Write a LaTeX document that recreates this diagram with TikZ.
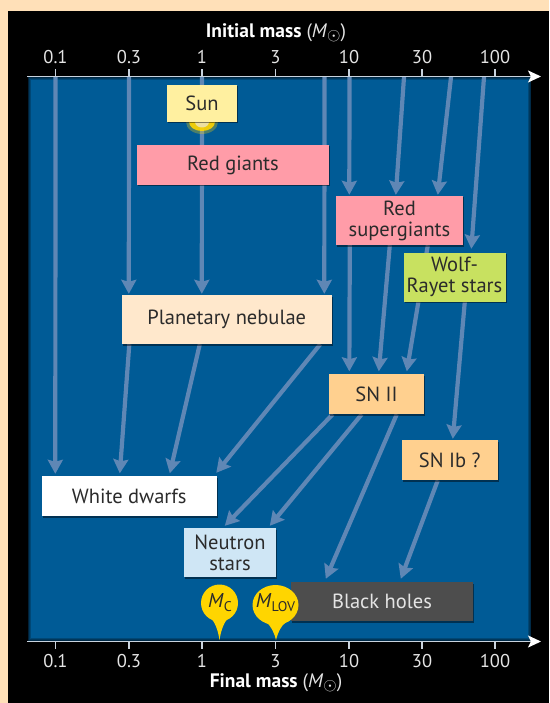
\documentclass[tikz,border=0pt]{standalone}
\usepackage{fontspec}
\setmainfont{PT Sans}
\usetikzlibrary{arrows.meta,shadows}
\definecolor{creambg}{HTML}{FFE0B8}
\definecolor{deepblue}{HTML}{005B96}
\definecolor{connblue}{HTML}{5F87B5}
\definecolor{axisgrey}{HTML}{C9D3DE}
\definecolor{labelgrey}{HTML}{E4E4E4}
\definecolor{inkdark}{HTML}{2B2B2B}
\definecolor{sunyellow}{HTML}{FFF0A0}
\definecolor{redbox}{HTML}{FF9CA8}
\definecolor{greenbox}{HTML}{C8E160}
\definecolor{pnbox}{HTML}{FFE8CC}
\definecolor{snbox}{HTML}{FFD08F}
\definecolor{nsbox}{HTML}{CFE6F5}
\definecolor{bhbox}{HTML}{4D4D4D}
\definecolor{balloon}{HTML}{FFD500}
\pgfdeclarelayer{back}
\pgfdeclarelayer{conn}
\pgfsetlayers{back,conn,main}
\newcommand{\massunit}{\textcolor{labelgrey}{\fontseries{m}\selectfont(\textit{M}\raisebox{-3.5pt}{\fontsize{17}{17}\selectfont$\odot$})}}
\tikzset{
  stbox/.style={rectangle,inner sep=0pt,align=center,text=inkdark,
    font=\fontsize{20.5}{21}\selectfont,
    drop shadow={shadow xshift=1pt,shadow yshift=-1.5pt,opacity=.45,fill=black}},
  connector/.style={draw=connblue,line width=4.2pt,
    -{Stealth[length=14pt,width=15pt,inset=2pt]}},
  axisline/.style={draw=axisgrey,line width=1.8pt,
    -{Stealth[length=13pt,width=12pt,inset=3pt,fill=white,color=white]}},
  ticklabel/.style={text=labelgrey,inner sep=0pt,font=\fontsize{18.5}{20}\selectfont},
  axistitle/.style={text=white,inner sep=0pt,font=\fontsize{19.5}{20}\bfseries},
  balloontext/.style={text=inkdark,inner sep=0pt,font=\fontsize{20}{20}\selectfont},
}
\begin{document}
\begin{tikzpicture}[x=1pt,y=-1pt]
\useasboundingbox (0,0) rectangle (549,703);
\begin{pgfonlayer}{back}
  \fill[creambg] (0,0) rectangle (549,703);
  \fill[black] (8,11) rectangle (549,703);
  \fill[deepblue] (28,77) rectangle (531,641);
  \foreach \w in {1,2.5,4,5.5} \draw[black,opacity=.22,line width=\w pt] (28,77) rectangle (531,641);
\end{pgfonlayer}

% free ends on the top axis
\coordinate (i1) at (55.5,77);
\coordinate (i2) at (129,77);
\coordinate (i3) at (202,77);
\coordinate (i4) at (324.5,77);
\coordinate (i5) at (349.5,77);
\coordinate (i6) at (404,77);
\coordinate (i7) at (451,77);
\coordinate (i8) at (484,77);

% boxes
\node[stbox,fill=sunyellow,minimum width=70pt,minimum height=37pt] (sun) at (202,103.5) {Sun};
\node[stbox,fill=redbox,minimum width=192pt,minimum height=40pt] (rg) at (233,165) {Red giants};
\node[stbox,fill=redbox,minimum width=127pt,minimum height=49pt] (sg) at (399.5,220.5) {Red\\supergiants};
\node[stbox,fill=greenbox,minimum width=102pt,minimum height=49pt] (wr) at (454.5,277) {Wolf-\\Rayet stars};
\node[stbox,fill=pnbox,minimum width=209.5pt,minimum height=49pt] (pn) at (226.75,319.5) {Planetary nebulae};
\node[stbox,fill=snbox,minimum width=95pt,minimum height=40pt] (sn) at (376.5,394) {SN II};
\node[stbox,fill=snbox,minimum width=95.5pt,minimum height=40pt] (ib) at (449.75,460) {SN Ib ?};
\node[stbox,fill=white,minimum width=175.5pt,minimum height=40pt] (wd) at (129.25,496) {White dwarfs};
\node[stbox,fill=nsbox,minimum width=92pt,minimum height=49pt] (ns) at (230,552.5) {Neutron\\stars};
\node[stbox,fill=bhbox,text=labelgrey,minimum width=182pt,minimum height=39pt] (bh) at (382,601.5) {Black holes};

% connectors
\begin{pgfonlayer}{conn}
  \draw[connector] (i1) -- ([xshift=14pt,yshift=2pt]wd.north west);
  \draw[connector] (i2) -- ([xshift=7pt,yshift=1pt]pn.north west);
  \draw[connector] (i3) -- ([xshift=80pt,yshift=1pt]pn.north west);
  \draw[connector] (i4) -- ([xshift=202.5pt,yshift=1pt]pn.north west);
  \draw[connector] (i5) -- ([xshift=13.5pt,yshift=1pt]sg.north west);
  \draw[connector] (i6) -- ([xshift=60pt,yshift=1pt]sg.north west);
  \draw[connector] (i7) -- ([xshift=102pt,yshift=1pt]sg.north west);
  \draw[connector] (i8) -- ([xshift=68pt,yshift=3.5pt]wr.north west);
  \draw[connector] ([xshift=14pt]sg.south west) -- ([xshift=20.5pt,yshift=2.5pt]sn.north west);
  \draw[connector] ([xshift=54pt]sg.south west) -- ([xshift=50pt,yshift=2.5pt]sn.north west);
  \draw[connector] ([xshift=92pt]sg.south west) -- ([xshift=78pt,yshift=2.5pt]sn.north west);
  \draw[connector] ([xshift=61.5pt]wr.south west) -- ([xshift=51pt,yshift=1pt]ib.north west);
  \draw[connector] ([xshift=7.5pt]pn.south west) -- ([xshift=78.5pt,yshift=2.5pt]wd.north west);
  \draw[connector] ([xshift=78pt]pn.south west) -- ([xshift=128.5pt,yshift=2.5pt]wd.north west);
  \draw[connector] ([xshift=198.5pt]pn.south west) -- ([xshift=175pt,yshift=3pt]wd.north west);
  \draw[connector] ([xshift=4pt]sn.south west) -- ([xshift=41pt,yshift=2pt]ns.north west);
  \draw[connector] ([xshift=33pt]sn.south west) -- ([xshift=86pt,yshift=2pt]ns.north west);
  \draw[connector] ([xshift=68pt]sn.south west) -- ([xshift=35pt,yshift=3pt]bh.north west);
  \draw[connector] ([xshift=36pt]ib.south west) -- ([xshift=110pt,yshift=3pt]bh.north west);
  % Sun's glow, under the box
  \fill[balloon,opacity=.3] (202,122) ellipse [x radius=16pt,y radius=12pt];
  \fill[balloon,opacity=.9] (202,122) ellipse [x radius=13pt,y radius=9pt];
  \fill[labelgrey!70!balloon] (202,122) ellipse [x radius=7pt,y radius=5.5pt];
\end{pgfonlayer}

% axes
\coordinate (ta) at (27,76.5);
\coordinate (tb) at (541,76.5);
\coordinate (ba) at (27,641.5);
\coordinate (bb) at (541,641.5);
\draw[axisline] (ta) -- (tb);
\draw[axisline] (ba) -- (bb);
\foreach \x/\l/\n in {55.5/0.1/a,129/0.3/b,202/1/c,275.5/3/d,349/10/e,422/30/f,495/100/g}{
  \draw[axisgrey,line width=1.2pt] (\x,69.5) -- (\x,76);
  \draw[axisgrey,line width=1.2pt] (\x,642) -- (\x,649);
  \node[ticklabel] (top\n) at (\x,57) {\l};
  \node[ticklabel] (bot\n) at (\x,661) {\l};
}
\node[axistitle] (itl) at (276,33) {Initial mass \massunit};
\node[axistitle] (ftl) at (276,683) {Final mass \massunit};

% balloons
\fill[balloon] (219.5,603) circle [radius=18.5pt];
\fill[balloon] (210,617) .. controls (215,622) and (218,630) .. (219.5,640) .. controls (221,630) and (224,622) .. (229,617) -- cycle;
\node[balloontext] (mc) at (220,603) {\textit{M}\raisebox{-4pt}{\fontsize{14}{14}\selectfont C}};
\fill[balloon] (275.5,605) ellipse [x radius=23pt,y radius=20pt];
\fill[balloon] (266,622) .. controls (271,626) and (274,632) .. (276,640) .. controls (278,632) and (281,626) .. (286,622) -- cycle;
\node[balloontext] (ml) at (275.5,603) {\textit{M}\raisebox{-4pt}{\fontsize{14}{14}\selectfont LOV}};
\end{tikzpicture}
\end{document}
